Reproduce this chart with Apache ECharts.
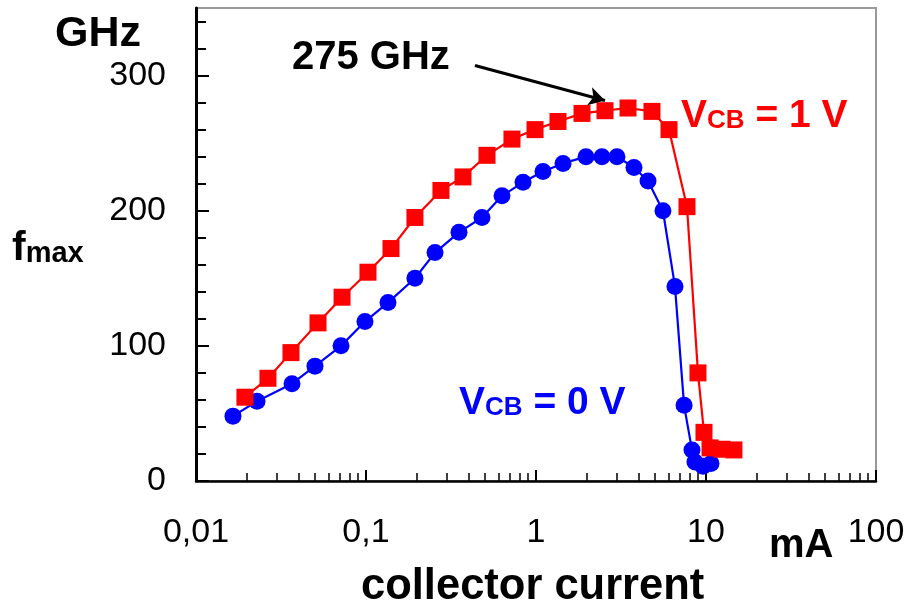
<!DOCTYPE html>
<html><head><meta charset="utf-8">
<script src="https://cdn.jsdelivr.net/npm/echarts@6/dist/echarts.min.js"></script>
<style>html,body{margin:0;padding:0;background:#fff}#c{width:911px;height:604px}</style>
</head><body><div id="c"></div>
<script>
// Data (collector current in mA, fmax in GHz)
const redX = [0.0194,0.0265,0.0362,0.0522,0.0723,0.1027,0.1403,0.194,0.276,0.372,0.515,0.722,0.987,1.347,1.865,2.546,3.477,4.81,6.06,7.73,8.97,9.73,10.56,12.42,14.6];
const redY = [62,76,95,117,136,154.5,172,195,215,225,241,253,260,266,272,274,276,273.5,260,203,80,36,24.5,23.5,23];
const blueX = [0.0165,0.02285,0.0367,0.0501,0.0713,0.0986,0.1347,0.194,0.2547,0.3524,0.481,0.631,0.839,1.099,1.442,1.968,2.444,2.994,3.77,4.56,5.58,6.57,7.43,8.27,8.61,9.6,10.7];
const blueY = [48,59,72,85,100,118,132,150,169,184,195,211,221,229,235,240,240,240,232,222,200,144,56,23,14,11,13];
const xTickValues = [0.01,0.1,1,10,100];
const xTickLabels = ['0,01','0,1','1','10','100'];
const yTickValues = [0,100,200,300];
const arrowFrom = [0.4375,307.5];
const arrowTo = [2.546,281.6];

const FONT = 'Liberation Sans, Arial, Helvetica, sans-serif';
// minor tick positions (log10 space for x; multiples of 20 for y)
const xMinor = [];
for (let d = -2; d < 2; d++) for (let k = 2; k <= 9; k++) xMinor.push(Math.log10(k * Math.pow(10, d)));
const yMinor = [];
for (let v = 20; v <= 340; v += 20) if (v % 100 !== 0) yMinor.push(v);

const chart = echarts.init(document.getElementById('c'), null, {renderer: 'canvas'});
const labelMap = {};
xTickValues.forEach((v, i) => labelMap[v] = xTickLabels[i]);

const G = {left: 196, right: 35, top: 8, bottom: 123};

chart.setOption({
  animation: false,
  grid: [
    Object.assign({show: true, borderColor: '#999', borderWidth: 2, backgroundColor: 'transparent'}, G),
    Object.assign({show: false}, G)
  ],
  xAxis: [{
    gridIndex: 0, type: 'log', logBase: 10, min: 0.01, max: 100, position: 'bottom',
    axisLine: {show: true, onZero: false, lineStyle: {color: '#000', width: 2.5}},
    axisTick: {show: true, inside: true, length: 11, lineStyle: {color: '#000', width: 2}},
    axisLabel: {show: true, margin: 35, fontSize: 34, color: '#000', fontFamily: FONT,
      formatter: v => { const k = Object.keys(labelMap).find(x => Math.abs(Math.log10(+x) - Math.log10(v)) < 1e-6); return k !== undefined ? labelMap[k] : ''; }},
    splitLine: {show: false}
  }, {
    gridIndex: 1, type: 'value', min: -2, max: 2, position: 'bottom',
    axisLine: {show: false, onZero: false},
    axisTick: {show: true, inside: true, length: 8, customValues: xMinor, lineStyle: {color: '#000', width: 1.5}},
    axisLabel: {show: false},
    splitLine: {show: false}
  }],
  yAxis: [{
    gridIndex: 0, type: 'value', min: 0, max: 350, position: 'left',
    axisLine: {show: true, onZero: false, lineStyle: {color: '#000', width: 3}},
    axisTick: {show: true, inside: true, length: 13, customValues: yTickValues, lineStyle: {color: '#000', width: 2}},
    axisLabel: {show: true, margin: 30, fontSize: 34, color: '#000', fontFamily: FONT, customValues: yTickValues},
    splitLine: {show: false}
  }, {
    gridIndex: 1, type: 'value', min: 0, max: 350, position: 'left',
    axisLine: {show: false, onZero: false},
    axisTick: {show: true, inside: true, length: 10, customValues: yMinor, lineStyle: {color: '#000', width: 2}},
    axisLabel: {show: false},
    splitLine: {show: false}
  }],
  series: [{
    type: 'line', name: 'VCB = 0 V', xAxisIndex: 0, yAxisIndex: 0,
    data: blueX.map((x, i) => [x, blueY[i]]),
    symbol: 'circle', symbolSize: 17,
    itemStyle: {color: '#0000FF'}, lineStyle: {color: '#0000FF', width: 2.2}
  }, {
    type: 'line', name: 'VCB = 1 V', xAxisIndex: 0, yAxisIndex: 0,
    data: redX.map((x, i) => [x, redY[i]]),
    symbol: 'rect', symbolSize: 17,
    itemStyle: {color: '#FF0000'}, lineStyle: {color: '#FF0000', width: 2.2},
    markLine: {
      silent: true, symbol: ['none', 'arrow'], symbolSize: [14, 16],
      label: {show: false},
      lineStyle: {color: '#000', width: 3, type: 'solid'},
      data: [[{coord: arrowFrom}, {coord: arrowTo}]]
    }
  }],
  graphic: [
    {type: 'text', left: 55, top: 13, style: {text: 'GHz', font: 'bold 43px ' + FONT, fill: '#000'}},
    {type: 'text', left: 12, top: 228, style: {text: '{f|f}{s|max}', fill: '#000',
      rich: {f: {font: 'bold 41px ' + FONT, fill: '#000'}, s: {font: 'bold 29px ' + FONT, fill: '#000', padding: [10, 0, 0, 0]}}}},
    {type: 'text', left: 292, top: 38, style: {text: '275 GHz', font: 'bold 40px ' + FONT, fill: '#000'}},
    {type: 'text', left: 681, top: 97, style: {text: '{v|V}{s|CB}{v| = 1 V}', fill: '#FF0000',
      rich: {v: {font: 'bold 39px ' + FONT, fill: '#FF0000'}, s: {font: 'bold 26px ' + FONT, fill: '#FF0000', padding: [8, 0, 0, 0]}}}},
    {type: 'text', left: 459, top: 384, style: {text: '{v|V}{s|CB}{v| = 0 V}', fill: '#0000FF',
      rich: {v: {font: 'bold 39px ' + FONT, fill: '#0000FF'}, s: {font: 'bold 26px ' + FONT, fill: '#0000FF', padding: [8, 0, 0, 0]}}}},
    {type: 'text', left: 769, top: 526, style: {text: 'mA', font: 'bold 40px ' + FONT, fill: '#000'}},
    {type: 'text', left: 361, top: 565, style: {text: 'collector current', font: 'bold 43.5px ' + FONT, fill: '#000'}}
  ]
});
</script></body></html>
